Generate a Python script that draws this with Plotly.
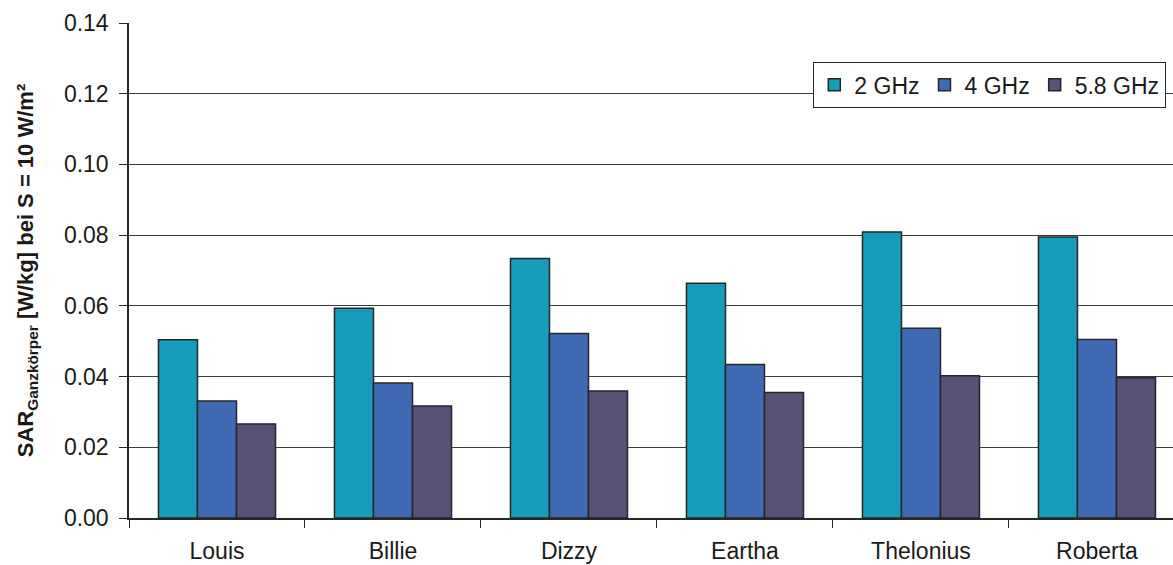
import plotly.graph_objects as go

# Whole-body SAR per phantom at S = 10 W/m², three frequencies
persons = ["Louis", "Billie", "Dizzy", "Eartha", "Thelonius", "Roberta"]
sar_2ghz = [0.0504, 0.0593, 0.0734, 0.0664, 0.0809, 0.0795]
sar_4ghz = [0.0331, 0.0382, 0.0522, 0.0434, 0.0537, 0.0505]
sar_58ghz = [0.0266, 0.0317, 0.0359, 0.0355, 0.0402, 0.0397]

series = [
    ("2 GHz", sar_2ghz, "#149cba"),
    ("4 GHz", sar_4ghz, "#3f6ab3"),
    ("5.8 GHz", sar_58ghz, "#565176"),
]

fig = go.Figure()
for name, vals, color in series:
    fig.add_trace(go.Bar(
        name=name, x=persons, y=vals,
        marker=dict(color=color, line=dict(color="#262626", width=1.5)),
    ))

font_family = "Liberation Sans, Arial, sans-serif"
fs = 23

fig.update_layout(
    width=1173, height=565,
    margin=dict(l=129, r=0, t=23, b=47, autoexpand=False),
    paper_bgcolor="white", plot_bgcolor="white",
    barmode="group", bargap=0.335, bargroupgap=0,
    font=dict(family=font_family, size=fs, color="#1a1a1a"),
    legend=dict(
        orientation="h", x=0.9933, y=0.921, xanchor="right", yanchor="top",
        bordercolor="#262626", borderwidth=1.3, bgcolor="white",
        font=dict(size=fs, family=font_family, color="#1a1a1a"),
        itemwidth=30, tracegroupgap=0,
    ),
    xaxis=dict(
        range=[-0.5, 5.432], showline=True, linecolor="#262626", linewidth=1.5,
        ticks="outside", tickson="boundaries", ticklen=8, tickcolor="#262626",
        tickwidth=1.2, showgrid=False, tickfont=dict(size=fs), fixedrange=True,
        ticklabelstandoff=12,
    ),
    yaxis=dict(
        range=[0, 0.14], dtick=0.02, tickformat=".2f",
        showline=True, linecolor="#262626", linewidth=1.5,
        ticks="outside", ticklen=8, tickcolor="#262626", tickwidth=1.2,
        showgrid=True, gridcolor="#3a3a3a", gridwidth=1.2, zeroline=False,
        tickfont=dict(size=fs), ticklabelstandoff=6,
        title=dict(
            text="<b>SAR<sub>Ganzkörper</sub> [W/kg] bei S = 10 W/m²</b>",
            font=dict(size=22), standoff=24,
        ),
    ),
)

fig.write_html("out.html")
